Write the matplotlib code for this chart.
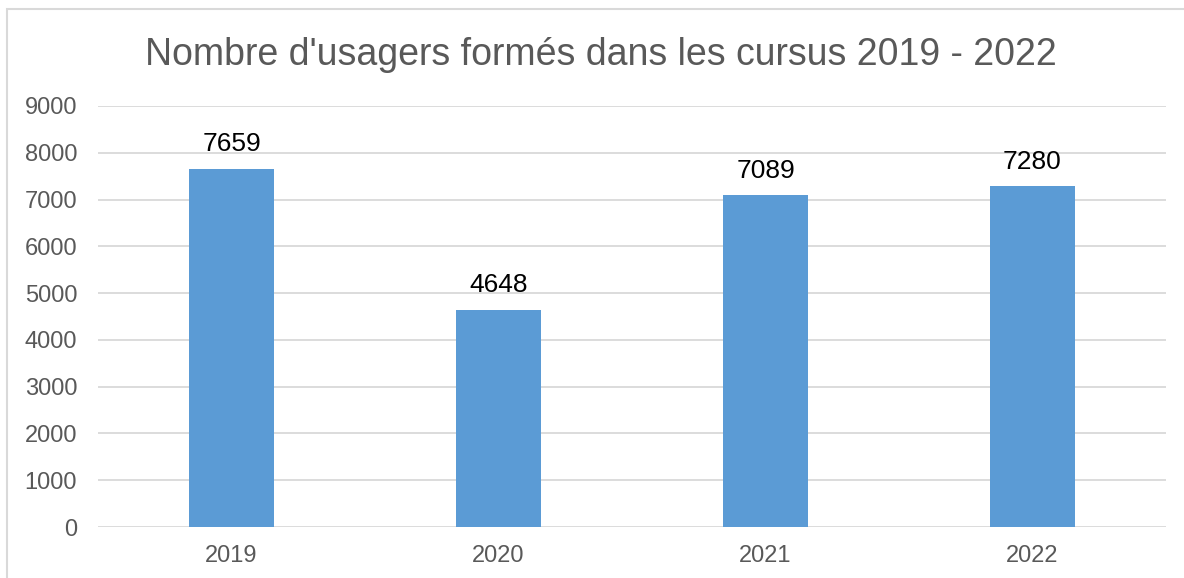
import matplotlib
matplotlib.use('Agg')
from matplotlib import pyplot as plt
from matplotlib.patches import Rectangle

plt.rcParams['font.family'] = ['Liberation Sans', 'DejaVu Sans']

years = ['2019', '2020', '2021', '2022']
users = [7659, 4648, 7089, 7280]
y_ticks = list(range(0, 9001, 1000))

W, H = 1184, 578
fig = plt.figure(figsize=(W / 100, H / 100), dpi=100)

# chart frame (clipped on right and bottom like the screenshot)
fig.patches.append(Rectangle((7 / W, -0.1), 1.2, 1 - 9 / H + 0.1, transform=fig.transFigure,
                             fill=False, edgecolor='#d9d9d9', linewidth=1.5))

ax = fig.add_axes([98 / W, 1 - 527 / H, (1166 - 98) / W, (527 - 106) / H])
x = range(len(years))
ax.bar(x, users, width=0.315, color='#5b9bd5', zorder=3)
for i, v in zip(x, users):
    ax.annotate(str(v), (i, v), xytext=(0, 12.5), textcoords='offset points',
                ha='center', va='baseline', fontsize=19, color='black')

ax.set_xlim(-0.5, len(years) - 0.5)
ax.set_ylim(0, 9000)
ax.set_yticks(y_ticks)
ax.set_xticks(list(x))
ax.set_xticklabels(years)
ax.tick_params(axis='both', length=0, labelsize=17, labelcolor='#595959')
ax.tick_params(axis='y', pad=15)
ax.tick_params(axis='x', pad=13)
ax.yaxis.grid(True, color='#d9d9d9', linewidth=1.3, zorder=0)
for s in ax.spines.values():
    s.set_visible(False)

fig.text(601 / W, 1 - 65 / H, "Nombre d'usagers formés dans les cursus 2019 - 2022",
         ha='center', va='baseline', fontsize=27, color='#595959')

plt.savefig('out.png', dpi=100)
